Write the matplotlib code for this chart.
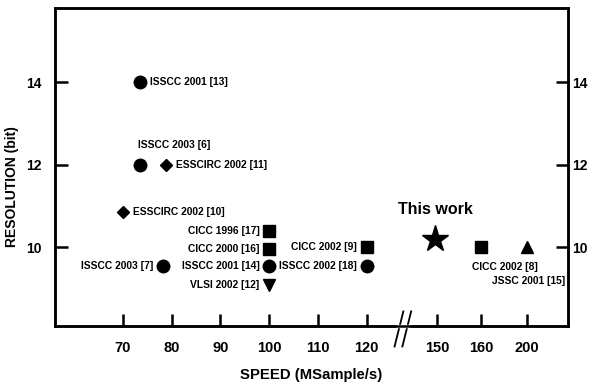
import numpy as np
import matplotlib
matplotlib.use("Agg")
import matplotlib.pyplot as plt
from matplotlib.lines import Line2D

plt.rcParams['font.family'] = ['Liberation Sans', 'DejaVu Sans']
plt.rcParams['font.weight'] = 'bold'

# broken speed axis: real value -> drawing position
tick_speeds = [70, 80, 90, 100, 110, 120, 150, 160, 200]
tick_pos = [70, 80, 90, 100, 110, 120, 134.5, 143.4, 152.8]

# data
labels = ["ISSCC 2001 [13]", "ISSCC 2003 [6]", "ESSCIRC 2002 [11]", "ESSCIRC 2002 [10]",
          "CICC 1996 [17]", "CICC 2000 [16]", "ISSCC 2003 [7]", "ISSCC 2001 [14]",
          "VLSI 2002 [12]", "CICC 2002 [9]", "ISSCC 2002 [18]", "This work",
          "CICC 2002 [8]", "JSSC 2001 [15]"]
speeds = [73.5, 73.5, 78.8, 68.6, 100, 100, 78.2, 100, 100, 120, 120, 149, 160, 200]
bits = [14.0, 12.0, 12.0, 10.85, 10.4, 9.97, 9.55, 9.55, 9.1, 10.0, 9.55, 10.2, 10.0, 10.0]
markers = ['o', 'o', 'D', 'D', 's', 's', 'o', 'o', 'v', 's', 'o', '*', 's', '^']
sizes = [9, 9, 6, 6, 8, 8, 9, 9, 9, 8, 9, 20, 8, 9]
# label placement (offset in points, alignment)
offsets = [(7, 0, 'left', 'center'), (25, 14, 'center', 'center'), (7, 0, 'left', 'center'),
           (7, 0, 'left', 'center'), (-7, 0, 'right', 'center'), (-7, 0, 'right', 'center'),
           (-7, 0, 'right', 'center'), (-7, 0, 'right', 'center'), (-7, 0, 'right', 'center'),
           (-7, 0, 'right', 'center'), (-7, 0, 'right', 'center'), (0, 16, 'center', 'bottom'),
           (-6.5, -14, 'left', 'center'), (28, -24, 'right', 'center')]

xs = np.interp(speeds, tick_speeds, tick_pos)

fig = plt.figure(figsize=(5.92, 3.87), dpi=100)
ax = fig.add_axes([0.093, 0.158, 0.866, 0.821])

for x, y, lab, m, s, off in zip(xs, bits, labels, markers, sizes, offsets):
    ax.plot(x, y, marker=m, color='black', markersize=s, linestyle='none')
    dx, dy, ha, va = off
    fs = 11.5 if lab == "This work" else 7.4
    ax.annotate(lab, (x, y), xytext=(dx, dy), textcoords='offset points',
                ha=ha, va=va, fontsize=fs, fontweight='bold')

ax.set_xlim(56.1, 161.2)
ax.set_ylim(8.1, 15.8)
ax.set_xticks(tick_pos)
ax.set_xticklabels([str(t) for t in tick_speeds], fontsize=10.5, fontweight='bold')
ax.set_yticks([10, 12, 14])
ax.set_yticklabels(['10', '12', '14'], fontsize=10, fontweight='bold')
ax.tick_params(axis='x', direction='in', length=9, width=1.8, pad=11)
ax.tick_params(axis='y', direction='in', length=9, width=1.8, pad=10)
for sp in ax.spines.values():
    sp.set_linewidth(1.8)

# right-hand resolution labels sit closer to the frame
axr = ax.twinx()
axr.set_ylim(ax.get_ylim())
axr.set_yticks([10, 12, 14])
axr.set_yticklabels(['10', '12', '14'], fontsize=10, fontweight='bold')
axr.tick_params(axis='y', direction='in', length=9, width=1.8, pad=3)
for sp in axr.spines.values():
    sp.set_linewidth(1.8)

ax.set_xlabel("SPEED (MSample/s)", fontsize=10.7, fontweight='bold', labelpad=9)
ax.set_ylabel("RESOLUTION (bit)", fontsize=10, fontweight='bold')
ax.yaxis.set_label_coords(-0.07, 0.437)

# break mark on the speed axis
bx = 127.4
for d in (-0.8, 0.8):
    ax.add_line(Line2D([bx + d - 0.9, bx + d + 0.9], [7.6, 8.45], color='black',
                       linewidth=1.3, transform=ax.transData, clip_on=False))
ax.add_line(Line2D([bx - 1.0, bx + 1.0], [8.1, 8.1], color='white',
                   linewidth=2.5, clip_on=False, zorder=3))

fig.savefig("out.png", dpi=100)
